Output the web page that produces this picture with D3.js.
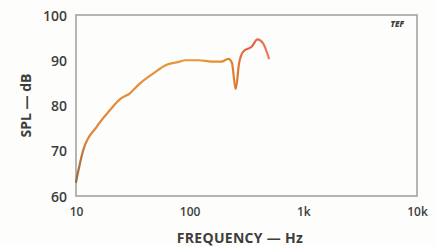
<!DOCTYPE html>
<html><head><meta charset="utf-8">
<script src="https://cdn.jsdelivr.net/npm/d3@7"></script>
<style>
html,body{margin:0;padding:0;background:#fdfdfb;}
svg{display:block;}
text{font-family:"Open Sans","DejaVu Sans",sans-serif;fill:#3d3d3d;}
</style></head>
<body>
<script>
const freqs = [10, 11.6, 15.2, 19.9, 24.4, 29.8, 36.6, 47.9, 62.8, 82, 91, 120, 156, 190, 219, 235, 254, 272, 296, 351, 396, 444, 498];
const spl   = [63.1, 70.2, 75.3, 79.0, 81.4, 82.7, 84.9, 87.1, 89.0, 89.7, 90.0, 90.0, 89.7, 89.7, 90.3, 89.5, 83.6, 89.3, 91.9, 93.0, 94.6, 93.7, 90.4];
const xTicks = [10, 100, 1000, 10000];
const xTickLabels = ["10", "100", "1k", "10k"];
const yTicks = [60, 70, 80, 90, 100];

const W = 435, H = 246;
const m = {l:76, r:18, t:15, b:50};
const svg = d3.select("body").append("svg").attr("width", W).attr("height", H);

const x = d3.scaleLog().domain([10, 10000]).range([m.l, W - m.r]);
const y = d3.scaleLinear().domain([60, 100]).range([H - m.b, m.t]);

const defs = svg.append("defs");
const g = defs.append("linearGradient").attr("id","cg").attr("gradientUnits","userSpaceOnUse")
  .attr("x1", x(10)).attr("x2", x(500)).attr("y1",0).attr("y2",0);
g.append("stop").attr("offset","0%").attr("stop-color","#9a6a45");
g.append("stop").attr("offset","6%").attr("stop-color","#e0843a");
g.append("stop").attr("offset","60%").attr("stop-color","#e9983a");
g.append("stop").attr("offset","78%").attr("stop-color","#dc8a2c");
g.append("stop").attr("offset","90%").attr("stop-color","#e4603e");
g.append("stop").attr("offset","100%").attr("stop-color","#ee7a62");

svg.append("rect").attr("x", x(10)).attr("y", y(100))
  .attr("width", x(10000) - x(10)).attr("height", y(60) - y(100))
  .attr("fill","none").attr("stroke","#a3a3a0").attr("stroke-width",1.6);

const xAxis = d3.axisBottom(x).tickValues(xTicks).tickSize(0)
  .tickFormat((d,i) => xTickLabels[i]);
const gx = svg.append("g").attr("transform", `translate(0,${y(60)})`).call(xAxis);
gx.select(".domain").remove();
gx.selectAll("text").attr("dy", "0").attr("y", 20).style("font-size","12px").style("font-weight","600").attr("fill","#3d3d3d");

const yAxis = d3.axisLeft(y).tickValues(yTicks).tickSize(0);
const gy = svg.append("g").attr("transform", `translate(${x(10)},0)`).call(yAxis);
gy.select(".domain").remove();
gy.selectAll("text").attr("x", -9).attr("dy","0.36em").style("font-size","14px").style("font-weight","600").attr("fill","#3d3d3d");

const line = d3.line().x((d,i) => x(freqs[i])).y(d => y(d)).curve(d3.curveMonotoneX);
svg.append("path").datum(spl).attr("d", line)
  .attr("fill","none").attr("stroke","url(#cg)").attr("stroke-width",2.2)
  .attr("stroke-linecap","round").attr("stroke-linejoin","round");

svg.append("text").attr("x", 240).attr("y", 243).attr("text-anchor","middle")
  .style("font-size","14px").style("font-weight","700").style("letter-spacing","0.3px")
  .text("FREQUENCY — Hz");
svg.append("text").attr("transform", `translate(31,${(y(60)+y(100))/2}) rotate(-90)`)
  .attr("text-anchor","middle").style("font-size","14px").style("font-weight","700")
  .text("SPL — dB");
svg.append("text").attr("x", 404).attr("y", 27).attr("text-anchor","end")
  .style("font-size","8px").style("font-weight","800").style("font-style","italic")
  .text("TEF");
</script>
</body></html>
